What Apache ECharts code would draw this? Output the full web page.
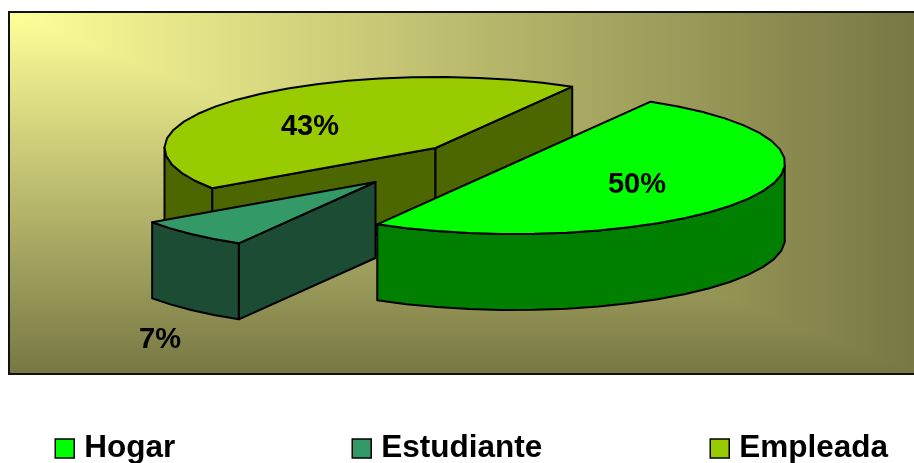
<!DOCTYPE html>
<html>
<head>
<meta charset="utf-8">
<style>html,body{margin:0;padding:0;background:#fff}#c{width:914px;height:463px}</style>
<script src="https://cdn.jsdelivr.net/npm/echarts@6/dist/echarts.min.js"></script>
</head>
<body>
<div id="c"></div>
<script>
// Data
var categories = ['Hogar', 'Estudiante', 'Empleada'];
var percentages = [50, 7, 43];

// Styles
var topColors = ['#00FF00', '#339966', '#99CC00'];
var wallColors = ['#007F00', '#1C4C33', '#4C6600'];

// Layout (exploded pie geometry)
var START_ANGLE = -59.7;
var RX = 271, RY = 71, DEPTH = 76;
var sliceCentres = [[514, 163], [375.5, 182], [435.5, 148]];
var labelPositions = [[637, 185], [160, 340], [310, 127]];
var legendLefts = [54.5, 351.5, 709.5];
var drawOrder = [2, 1, 0];
var FONT = '"Liberation Sans", Arial, sans-serif';
var LINE = '#000';

function sliceAngles(i) {
  var total = percentages.reduce(function (a, b) { return a + b; }, 0);
  var before = 0;
  for (var k = 0; k < i; k++) before += percentages[k];
  return [START_ANGLE + before / total * 360, START_ANGLE + (before + percentages[i]) / total * 360];
}

function arcPoints(i) {
  var a = sliceAngles(i), c = sliceCentres[i], pts = [];
  var n = Math.max(2, Math.round((a[1] - a[0]) / 7));
  for (var k = 0; k <= n; k++) {
    var t = (a[0] + (a[1] - a[0]) * k / n) * Math.PI / 180;
    pts.push([c[0] + RX * Math.cos(t), c[1] + RY * Math.sin(t)]);
  }
  return pts;
}

function down(p) { return [p[0], p[1] + DEPTH]; }

function poly(points, fill, z2) {
  return {
    type: 'polygon', z2: z2,
    shape: { points: points },
    style: { fill: fill, stroke: LINE, lineWidth: 2, lineJoin: 'round' }
  };
}

function wallFrom(run, fill, z2) {
  return poly(run.concat(run.slice().reverse().map(down)), fill, z2);
}

function renderSlice(i) {
  var arc = arcPoints(i), apex = sliceCentres[i], children = [];
  // radial walls: shown only if facing the viewer
  if (arc[0][0] < apex[0]) children.push(wallFrom([apex, arc[0]], wallColors[i], 1));
  var last = arc[arc.length - 1];
  if (apex[0] < last[0]) children.push(wallFrom([last, apex], wallColors[i], 1));
  // outer wall: front-facing run of the rim
  var run = [];
  for (var k = 0; k < arc.length - 1; k++) {
    if (arc[k + 1][0] < arc[k][0]) {
      if (!run.length) run.push(arc[k]);
      run.push(arc[k + 1]);
    }
  }
  if (run.length) children.push(wallFrom(run, wallColors[i], 2));
  // top face
  children.push(poly([apex].concat(arc), topColors[i], 3));
  // label
  children.push({
    type: 'text', z2: 5,
    style: {
      text: percentages[i] + '%', x: labelPositions[i][0], y: labelPositions[i][1],
      align: 'center', verticalAlign: 'middle',
      fontFamily: FONT, fontWeight: 'bold', fontSize: 29, fill: '#000'
    }
  });
  return { type: 'group', children: children };
}

var PLOT = { x0: 9, y0: 12, x1: 916, y1: 374 };
var GRAD_START = '#FFFF99', GRAD_END = '#777744';
function grad(x2, y2) {
  return { type: 'linear', x: 0, y: 0, x2: x2, y2: y2, colorStops: [
    { offset: 0, color: GRAD_START }, { offset: 1, color: GRAD_END }
  ] };
}

var chart = echarts.init(document.getElementById('c'), null, { renderer: 'canvas' });
chart.setOption({
  animation: false,
  backgroundColor: '#fff',
  graphic: [
    { type: 'rect', z: -12, silent: true,
      shape: { x: PLOT.x0, y: PLOT.y0, width: PLOT.x1 - PLOT.x0, height: PLOT.y1 - PLOT.y0 },
      style: { fill: grad(1, 0) } },
    { type: 'polygon', z: -11, silent: true,
      shape: { points: [[PLOT.x0, PLOT.y0], [PLOT.x0, PLOT.y1], [PLOT.x1, PLOT.y1]] },
      style: { fill: grad(0, 1) } },
    { type: 'rect', z: -10, silent: true,
      shape: { x: PLOT.x0, y: PLOT.y0, width: PLOT.x1 - PLOT.x0, height: PLOT.y1 - PLOT.y0 },
      style: { fill: 'none', stroke: '#111', lineWidth: 2 } }
  ],
  legend: categories.map(function (name, i) {
    return {
      data: [name], left: legendLefts[i], top: 432.5, padding: 0,
      orient: 'horizontal', selectedMode: false, icon: 'rect',
      itemWidth: 19, itemHeight: 19, itemGap: 0,
      itemStyle: { borderColor: '#000', borderWidth: 1.5 },
      textStyle: { fontFamily: FONT, fontWeight: 'bold', fontSize: 31.5, color: '#000', padding: [0, 0, 0, 5] }
    };
  }),
  series: drawOrder.map(function (i, order) {
    return {
      type: 'custom', name: categories[i], coordinateSystem: 'none',
      z: 2 + order, silent: true, clip: false,
      itemStyle: { color: topColors[i] },
      data: [percentages[i]],
      renderItem: function () { return renderSlice(i); }
    };
  })
});
</script>
</body>
</html>
